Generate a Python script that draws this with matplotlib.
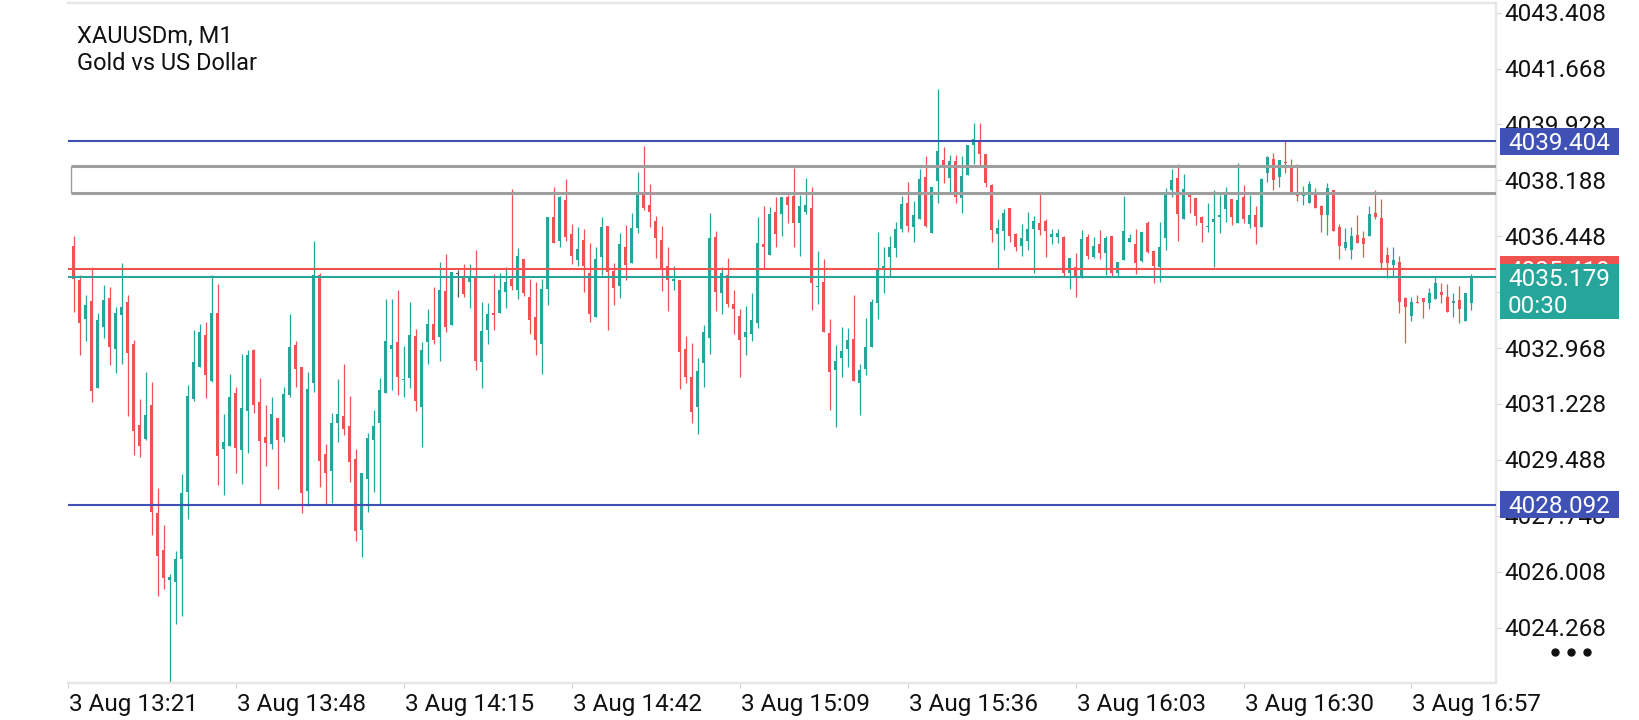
import numpy as np
import matplotlib
matplotlib.use("Agg")
import matplotlib.pyplot as plt
from matplotlib.patches import Rectangle
from matplotlib.lines import Line2D
from matplotlib import transforms as mtransforms

# ---------------- data ----------------
symbol = "XAUUSDm, M1"
description = "Gold vs US Dollar"

opens = [
    4036.14, 4035.09, 4033.88, 4034.43, 4031.73, 4033.63, 4034.54, 4032.95, 4034.01, 4034.40,
    4033.08, 4030.56, 4030.15, 4031.19, 4027.83, 4026.68, 4025.75, 4025.69, 4026.41, 4028.49,
    4031.37, 4032.39, 4033.37, 4031.94, 4034.05, 4029.84, 4029.92, 4031.58, 4029.79, 4031.02,
    4032.91, 4031.29, 4030.20, 4029.98, 4030.80, 4030.21, 4031.51, 4033.06, 4032.39, 4028.53,
    4031.89, 4035.24, 4029.67, 4029.15, 4030.64, 4030.85, 4030.54, 4029.52, 4027.30, 4028.88,
    4030.10, 4030.64, 4031.56, 4032.95, 4033.15, 4031.96, 4032.05, 4033.34, 4031.14, 4033.17,
    4033.71, 4033.30, 4034.75, 4033.68, 4035.27, 4035.17, 4035.03, 4035.21, 4032.54, 4033.53,
    4034.05, 4034.07, 4034.72, 4035.13, 4034.77, 4035.73, 4034.57, 4033.94, 4033.09, 4034.81,
    4037.04, 4036.31, 4037.58, 4036.52, 4035.71, 4036.33, 4035.31, 4033.94, 4035.79, 4036.77,
    4035.37, 4034.91, 4036.12, 4035.62, 4036.71, 4037.73, 4037.42, 4036.92, 4036.33, 4035.52,
    4035.07, 4035.09, 4032.94, 4032.08, 4031.14, 4032.49, 4033.29, 4036.43, 4034.69, 4035.24,
    4034.34, 4033.97, 4033.32, 4033.42, 4033.76, 4036.21, 4035.86, 4037.21, 4037.14, 4037.68,
    4037.70, 4036.87, 4037.21, 4037.34, 4034.86, 4035.03, 4033.43, 4032.28, 4032.65, 4032.93,
    4033.25, 4031.89, 4032.30, 4033.01, 4034.36, 4035.45, 4035.81, 4036.07, 4036.66, 4037.49,
    4036.75, 4036.98, 4038.30, 4036.56, 4038.18, 4038.82, 4038.27, 4038.79, 4037.63, 4038.35,
    4039.29, 4039.39, 4039.01, 4038.04, 4036.52, 4036.62, 4037.32, 4036.52, 4036.15, 4036.31,
    4036.66, 4036.85, 4036.93, 4036.43, 4036.43, 4036.41, 4035.31, 4035.50, 4035.19, 4036.41,
    4035.79, 4036.20, 4035.94, 4036.46, 4035.31, 4035.71, 4036.28, 4036.21, 4035.69, 4036.85,
    4035.99, 4035.48, 4036.38, 4037.89, 4038.25, 4037.00, 4037.83, 4037.63, 4037.04, 4036.73,
    4036.90, 4037.04, 4037.31, 4037.60, 4036.87, 4037.66, 4036.83, 4037.11, 4036.73, 4038.43,
    4038.84, 4038.28, 4038.77, 4038.59, 4037.78, 4037.70, 4037.49, 4037.78, 4037.39, 4037.11,
    4037.89, 4036.73, 4036.09, 4036.02, 4036.49, 4036.40, 4036.46, 4037.16, 4037.03, 4035.86,
    4035.55, 4035.66, 4034.52, 4033.97, 4034.41, 4034.52, 4034.36, 4034.48, 4034.72, 4034.55,
    4034.36, 4034.46, 4033.82, 4034.38,
]
highs = [
    4036.45, 4035.24, 4034.62, 4035.50, 4034.05, 4034.93, 4034.86, 4034.23, 4035.63, 4034.62,
    4033.22, 4031.38, 4032.22, 4031.91, 4028.62, 4027.46, 4025.93, 4026.65, 4029.05, 4031.82,
    4033.53, 4033.72, 4033.78, 4035.24, 4034.96, 4030.91, 4032.16, 4031.75, 4032.78, 4032.91,
    4032.94, 4032.04, 4031.19, 4031.45, 4030.80, 4031.76, 4034.03, 4033.19, 4032.39, 4032.21,
    4036.31, 4035.31, 4029.98, 4030.96, 4032.00, 4032.47, 4031.47, 4029.84, 4029.09, 4030.31,
    4031.04, 4032.02, 4034.49, 4034.49, 4034.79, 4033.04, 4034.41, 4033.56, 4033.17, 4034.19,
    4034.86, 4035.66, 4035.89, 4035.35, 4035.40, 4035.58, 4035.58, 4036.02, 4034.41, 4034.36,
    4035.27, 4035.31, 4035.50, 4037.92, 4036.07, 4035.73, 4035.12, 4035.01, 4035.12, 4037.06,
    4037.97, 4037.70, 4038.23, 4036.83, 4036.73, 4036.67, 4036.25, 4036.12, 4037.06, 4036.77,
    4035.60, 4036.54, 4036.80, 4037.16, 4038.46, 4039.26, 4038.07, 4037.08, 4036.77, 4036.12,
    4035.52, 4035.09, 4033.34, 4033.11, 4032.65, 4033.68, 4037.16, 4036.62, 4035.48, 4035.76,
    4034.79, 4034.18, 4034.28, 4034.67, 4037.06, 4037.39, 4037.37, 4037.68, 4037.68, 4037.73,
    4038.58, 4037.73, 4038.25, 4037.97, 4035.99, 4035.74, 4033.87, 4033.06, 4033.61, 4033.58,
    4034.62, 4032.46, 4033.89, 4034.48, 4036.59, 4036.12, 4036.46, 4036.90, 4037.70, 4038.15,
    4037.53, 4038.53, 4038.95, 4037.97, 4041.02, 4039.22, 4038.98, 4038.98, 4038.95, 4039.29,
    4039.96, 4039.96, 4039.01, 4038.07, 4037.00, 4037.29, 4037.32, 4036.56, 4036.82, 4037.19,
    4037.08, 4037.75, 4036.97, 4036.67, 4036.67, 4036.46, 4035.76, 4035.92, 4036.64, 4036.52,
    4036.41, 4036.64, 4036.46, 4036.46, 4035.66, 4037.70, 4036.52, 4036.66, 4036.59, 4036.92,
    4035.99, 4036.90, 4037.96, 4038.53, 4038.69, 4038.38, 4037.83, 4037.63, 4037.08, 4037.49,
    4037.89, 4037.73, 4037.99, 4037.60, 4038.74, 4038.04, 4037.73, 4037.39, 4038.25, 4038.95,
    4039.03, 4038.82, 4039.42, 4038.84, 4038.70, 4038.01, 4038.17, 4037.94, 4037.42, 4038.12,
    4037.89, 4036.83, 4036.69, 4036.73, 4037.11, 4036.62, 4037.39, 4037.89, 4037.60, 4036.10,
    4036.12, 4035.83, 4034.55, 4034.57, 4034.62, 4034.52, 4034.83, 4035.19, 4034.98, 4034.96,
    4034.69, 4034.90, 4034.67, 4035.27,
]
lows = [
    4034.10, 4032.75, 4033.20, 4031.30, 4031.73, 4033.29, 4032.45, 4032.20, 4032.48, 4030.85,
    4029.64, 4029.59, 4030.10, 4027.16, 4025.26, 4025.48, 4022.30, 4024.37, 4024.64, 4027.64,
    4031.32, 4032.37, 4031.42, 4031.92, 4028.70, 4028.39, 4029.92, 4029.09, 4028.73, 4029.71,
    4030.96, 4028.11, 4029.30, 4029.84, 4028.59, 4030.05, 4031.43, 4031.76, 4027.82, 4028.05,
    4031.61, 4028.65, 4028.11, 4028.15, 4030.05, 4030.26, 4028.81, 4026.97, 4026.47, 4027.87,
    4028.50, 4028.11, 4031.56, 4031.66, 4031.50, 4031.45, 4031.71, 4031.02, 4029.90, 4032.46,
    4033.08, 4032.57, 4033.48, 4033.68, 4034.57, 4034.55, 4034.20, 4032.28, 4031.73, 4033.08,
    4033.53, 4034.07, 4034.20, 4034.79, 4034.48, 4034.60, 4033.40, 4032.75, 4032.16, 4034.31,
    4036.25, 4036.10, 4036.31, 4035.58, 4035.53, 4034.72, 4033.79, 4033.94, 4035.24, 4033.53,
    4034.31, 4034.54, 4035.09, 4035.60, 4036.56, 4037.26, 4036.75, 4035.78, 4034.75, 4034.13,
    4034.77, 4031.68, 4031.87, 4030.62, 4030.29, 4031.77, 4032.77, 4034.13, 4034.02, 4034.26,
    4033.40, 4032.08, 4032.75, 4033.20, 4033.58, 4035.45, 4035.86, 4036.12, 4036.46, 4036.85,
    4036.12, 4035.84, 4037.13, 4034.15, 4034.34, 4033.48, 4031.04, 4030.52, 4032.08, 4032.37,
    4031.95, 4030.88, 4032.13, 4033.01, 4033.86, 4034.69, 4035.21, 4035.81, 4036.59, 4036.59,
    4036.28, 4036.98, 4036.75, 4036.56, 4037.49, 4038.12, 4037.84, 4037.49, 4037.18, 4038.35,
    4038.69, 4038.67, 4037.97, 4036.28, 4035.45, 4036.02, 4036.28, 4035.99, 4035.83, 4036.02,
    4035.31, 4036.49, 4035.81, 4036.22, 4036.23, 4035.19, 4034.82, 4034.57, 4035.14, 4035.73,
    4035.76, 4035.73, 4035.24, 4035.21, 4035.19, 4035.71, 4036.28, 4035.27, 4035.66, 4035.92,
    4034.98, 4035.03, 4036.02, 4037.68, 4036.31, 4037.00, 4037.18, 4036.80, 4036.28, 4036.59,
    4035.48, 4036.54, 4036.90, 4036.80, 4036.87, 4036.85, 4036.69, 4036.21, 4036.73, 4038.15,
    4037.89, 4037.99, 4038.43, 4037.84, 4037.56, 4037.42, 4037.47, 4037.32, 4036.59, 4036.49,
    4036.62, 4035.73, 4036.02, 4035.73, 4036.25, 4035.81, 4036.46, 4037.00, 4035.45, 4035.14,
    4035.21, 4034.05, 4033.14, 4033.82, 4034.36, 4033.89, 4034.17, 4034.48, 4034.36, 4034.10,
    4033.94, 4033.74, 4033.82, 4034.15,
]
closes = [
    4035.11, 4033.76, 4034.31, 4031.64, 4033.84, 4034.46, 4033.01, 4034.05, 4034.23, 4032.82,
    4030.39, 4029.93, 4030.88, 4027.87, 4026.50, 4025.82, 4025.85, 4026.40, 4028.47, 4031.47,
    4032.53, 4033.47, 4032.14, 4034.05, 4029.61, 4030.04, 4031.44, 4029.87, 4031.09, 4032.76,
    4031.19, 4030.08, 4030.02, 4030.91, 4030.11, 4031.54, 4033.01, 4032.30, 4028.47, 4031.69,
    4035.24, 4029.45, 4029.09, 4030.64, 4030.91, 4030.46, 4029.43, 4027.28, 4029.09, 4030.17,
    4030.54, 4031.66, 4033.19, 4033.06, 4032.08, 4032.00, 4033.37, 4031.33, 4032.91, 4033.71,
    4033.22, 4034.77, 4033.63, 4035.35, 4035.27, 4034.65, 4035.19, 4032.57, 4033.50, 4034.03,
    4034.00, 4034.77, 4035.03, 4034.90, 4035.83, 4034.69, 4033.84, 4033.22, 4034.81, 4037.04,
    4036.25, 4037.66, 4036.43, 4035.84, 4036.05, 4035.53, 4034.02, 4035.74, 4036.75, 4035.32,
    4034.85, 4036.21, 4035.55, 4036.71, 4037.73, 4037.32, 4037.21, 4036.40, 4035.43, 4035.09,
    4035.12, 4032.85, 4032.06, 4030.97, 4032.25, 4033.48, 4036.40, 4034.72, 4035.29, 4034.33,
    4034.18, 4033.22, 4033.48, 4033.84, 4036.23, 4036.12, 4037.14, 4036.52, 4037.66, 4037.42,
    4036.87, 4037.39, 4037.42, 4035.00, 4034.90, 4033.48, 4032.23, 4032.56, 4032.88, 4033.22,
    4031.95, 4032.28, 4033.01, 4034.41, 4035.45, 4035.52, 4036.12, 4036.66, 4037.45, 4036.77,
    4037.11, 4038.23, 4036.78, 4037.97, 4039.11, 4038.56, 4038.80, 4037.66, 4038.32, 4039.29,
    4039.47, 4039.01, 4038.12, 4036.64, 4036.69, 4037.16, 4036.46, 4036.10, 4036.40, 4036.67,
    4036.93, 4036.64, 4036.62, 4036.52, 4036.54, 4035.31, 4035.76, 4035.19, 4036.35, 4035.83,
    4036.14, 4035.92, 4036.38, 4035.31, 4035.66, 4036.62, 4036.38, 4035.62, 4036.59, 4035.97,
    4035.52, 4036.12, 4037.75, 4038.20, 4037.14, 4037.92, 4037.66, 4037.08, 4036.85, 4036.77,
    4036.98, 4037.11, 4037.72, 4037.06, 4037.58, 4037.00, 4037.11, 4036.75, 4038.22, 4038.93,
    4038.20, 4038.82, 4038.72, 4037.84, 4037.70, 4037.73, 4038.07, 4037.32, 4037.11, 4037.94,
    4036.62, 4036.14, 4036.28, 4036.44, 4036.25, 4036.21, 4037.14, 4037.04, 4035.63, 4035.60,
    4035.71, 4034.41, 4034.26, 4034.41, 4034.36, 4034.41, 4034.69, 4034.98, 4034.62, 4034.10,
    4034.43, 4034.17, 4034.67, 4035.18,
]

price_ticks = [4043.408, 4041.668, 4039.928, 4038.188, 4036.448, 4034.708,
               4032.968, 4031.228, 4029.488, 4027.748, 4026.008, 4024.268]
time_labels = ["3 Aug 13:21", "3 Aug 13:48", "3 Aug 14:15", "3 Aug 14:42", "3 Aug 15:09",
               "3 Aug 15:36", "3 Aug 16:03", "3 Aug 16:30", "3 Aug 16:57"]
bars_per_label = 28

bid = 4035.179
ask = 4035.419
level_high = 4039.404
level_low = 4028.092
zone_top = 4038.63
zone_bottom = 4037.79
zone_start = 0.55
countdown = "00:30"

# ---------------- style ----------------
BULL = "#26A69A"
BEAR = "#EF5350"
DOJI = "#555555"
BLUE = "#3F51B5"
ZONE = "#9E9E9E"
FRAME = "#E6E6E6"
TXT = "#111111"
FONT = "Roboto"
plt.rcParams["font.family"] = [FONT, "DejaVu Sans"]

W, H = 1640, 720
fig = plt.figure(figsize=(W / 100, H / 100), dpi=100)
fig.patch.set_facecolor("white")
ax_l, ax_r = 68 / W, 1496 / W
ax_b, ax_t = 1 - 682.7 / H, 1 - 2.7 / H
ax = fig.add_axes([ax_l, ax_b, ax_r - ax_l, ax_t - ax_b])
ax.set_facecolor("white")

n = len(opens)
x = np.arange(1, n + 1)
o = np.array(opens); h = np.array(highs); l = np.array(lows); c = np.array(closes)
colors = np.where(c > o, BULL, np.where(c < o, BEAR, DOJI))

ax.vlines(x, l, h, colors=colors, linewidth=0.9, zorder=2)
body_bottom = np.minimum(o, c)
body_h = np.maximum(np.abs(c - o), 0.045)
ax.bar(x, body_h, width=0.5, bottom=body_bottom, color=colors, linewidth=0, zorder=3)

ymin, ymax = 4022.55, 4043.718
xmin, xmax = 0.117, 238.1
ax.set_xlim(xmin, xmax)
ax.set_ylim(ymin, ymax)

# lines
ax.axhline(level_high, color=BLUE, lw=1.5, zorder=4)
ax.axhline(level_low, color=BLUE, lw=1.5, zorder=4)
ax.axhline(ask, color=BEAR, lw=1.5, zorder=4)
ax.axhline(bid, color=BULL, lw=1.5, zorder=4)
# zone rectangle: thick horizontal edges, thin left edge
ax.hlines([zone_top, zone_bottom], zone_start, xmax + 5, colors=ZONE, lw=2.2, zorder=4)
ax.vlines([zone_start], zone_bottom, zone_top, colors=ZONE, lw=1.0, zorder=4)

# frame
ax.spines["left"].set_visible(False)
for s in ("top", "right", "bottom"):
    ax.spines[s].set_color(FRAME)
    ax.spines[s].set_linewidth(1.7)

tick_pos = [k * bars_per_label for k in range(len(time_labels))]
ax.yaxis.tick_right()
ax.set_yticks(price_ticks)
ax.set_xticks(tick_pos)
ax.tick_params(axis="both", length=3.6, width=0.8, color="#D5D5D5", direction="out",
               labelright=False, labelleft=False, labelbottom=False)

fs = 17.5
ppp = (ax_t - ax_b) * H / (ymax - ymin)  # pixels per price unit
ytrans = mtransforms.blended_transform_factory(fig.transFigure, ax.transData)
cap_half = 8.5

def right_text(price, s, color, z, xpx=1504, dy=0.0):
    t = mtransforms.offset_copy(ytrans, fig=fig, x=0, y=-cap_half + dy, units="dots")
    ax.text(xpx / W, price, s, transform=t, ha="left", va="baseline", fontsize=fs,
            color=color, zorder=z, clip_on=False)

for p in price_ticks:
    right_text(p, f"{p:.3f}", TXT, 5)

# x labels
xtrans = mtransforms.blended_transform_factory(ax.transData, fig.transFigure)
xt = mtransforms.offset_copy(xtrans, fig=fig, x=1, y=0, units="dots")
for pos, lab in zip(tick_pos, time_labels):
    ax.text(pos, 1 - 710.7 / H, lab, transform=xt, ha="left", va="baseline",
            fontsize=fs, color=TXT, clip_on=False, zorder=5)

# price boxes
bx0, bx1 = 1500 / W, 1619 / W
half = 13.5 / ppp

def box(price, color, z, below=13.5):
    ax.add_patch(Rectangle((bx0, price - below / ppp), bx1 - bx0, half + below / ppp,
                           transform=ytrans, facecolor=color, edgecolor="none",
                           zorder=z, clip_on=False))

box(level_high, BLUE, 10)
right_text(level_high, f"{level_high:.3f}", "white", 11, xpx=1508)
box(level_low, BLUE, 10)
right_text(level_low, f"{level_low:.3f}", "white", 11, xpx=1508)
box(ask, BEAR, 10)
right_text(ask, f"{ask:.3f}", "white", 11, xpx=1508)
box(bid, BULL, 12, below=42)
right_text(bid, f"{bid:.3f}", "white", 13, xpx=1508)
right_text(bid, countdown, "white", 13, xpx=1508, dy=-27.5)

# title
fig.text(77.3 / W, 1 - 42.7 / H, symbol, ha="left", va="baseline", fontsize=17, color=TXT)
fig.text(77.3 / W, 1 - 70.5 / H, description, ha="left", va="baseline", fontsize=17, color=TXT)

# menu dots
fig.add_artist(Line2D([1555 / W, 1570.7 / W, 1586.7 / W], [1 - 651.7 / H] * 3,
                      transform=fig.transFigure, marker="o", linestyle="none",
                      markersize=5, color=TXT))

fig.savefig("out.png", dpi=100, facecolor="white")
